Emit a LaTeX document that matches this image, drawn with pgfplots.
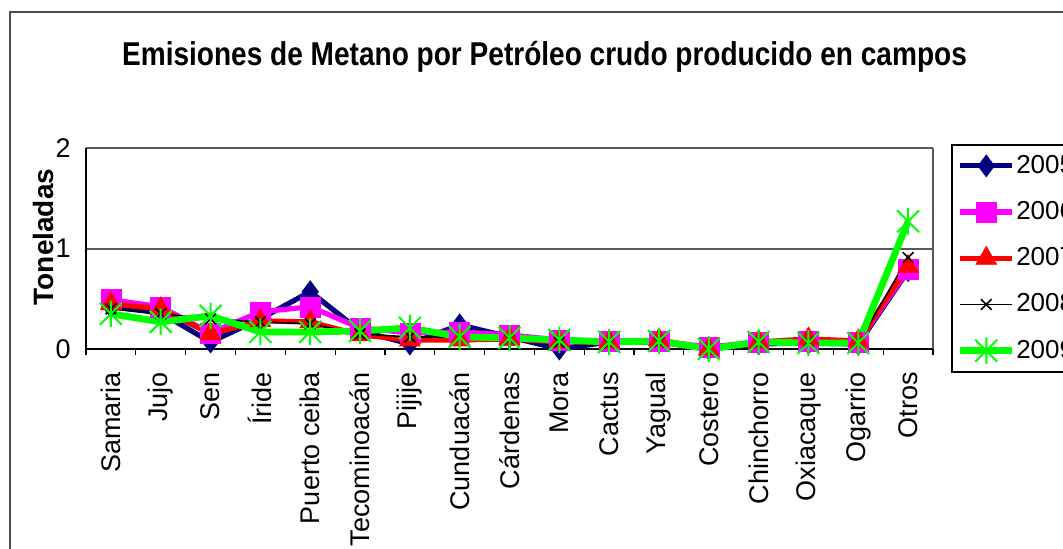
\documentclass[border=0pt]{standalone}
\usepackage{fontspec}
\setmainfont{Liberation Sans}
\usepackage{graphicx}
\usepackage{pgfplots}
\pgfplotsset{compat=1.18}
\definecolor{navyc}{RGB}{0,0,128}
\definecolor{magc}{RGB}{255,0,255}
\definecolor{redc}{RGB}{255,0,0}
\definecolor{greenc}{RGB}{0,255,0}
\pgfdeclareplotmark{xstar}{%
  \pgfpathmoveto{\pgfqpoint{-\pgfplotmarksize}{-\pgfplotmarksize}}%
  \pgfpathlineto{\pgfqpoint{\pgfplotmarksize}{\pgfplotmarksize}}%
  \pgfpathmoveto{\pgfqpoint{-\pgfplotmarksize}{\pgfplotmarksize}}%
  \pgfpathlineto{\pgfqpoint{\pgfplotmarksize}{-\pgfplotmarksize}}%
  \pgfpathmoveto{\pgfqpoint{0pt}{-1.2\pgfplotmarksize}}%
  \pgfpathlineto{\pgfqpoint{0pt}{1.2\pgfplotmarksize}}%
  \pgfusepathqstroke}

\pgfplotstableread{
x y2005 y2006 y2007 y2008 y2009
0  0.42 0.49 0.45 0.40 0.35
1  0.36 0.42 0.40 0.35 0.27
2  0.07 0.16 0.15 0.30 0.33
3  0.30 0.37 0.28 0.27 0.17
4  0.57 0.42 0.27 0.25 0.17
5  0.18 0.21 0.14 0.15 0.18
6  0.05 0.16 0.09 0.12 0.21
7  0.24 0.17 0.09 0.12 0.12
8  0.12 0.14 0.10 0.10 0.11
9  0.00 0.09 0.07 0.07 0.09
10 0.07 0.08 0.07 0.06 0.07
11 0.07 0.08 0.09 0.07 0.08
12 0.00 0.02 0.00 0.00 0.00
13 0.05 0.07 0.07 0.06 0.07
14 0.06 0.08 0.10 0.07 0.06
15 0.05 0.07 0.08 0.06 0.06
16 0.78 0.79 0.82 0.91 1.27
}\datatable

\begin{document}
\begin{tikzpicture}[x=0.5pt,y=0.5pt]
\path[use as bounding box] (0,0) rectangle (1063,548);
\fill[white] (0,0) rectangle (1063,548);
\draw[gray!60!black, line width=0.8pt] (10,-5) -- (10,536) -- (1075,536);
\node[font=\bfseries\fontsize{16.5}{18}\selectfont, anchor=base, inner sep=0pt] at (544.5,483)
  {\scalebox{0.85}[1]{Emisiones de Metano por Petróleo crudo producido en campos}};
\node[font=\bfseries\fontsize{14}{16}\selectfont, rotate=90, inner sep=0pt] at (43,311) {Toneladas};
\begin{axis}[
  scale only axis, width=423.5pt, height=100.5pt,
  at={(43pt,99.5pt)}, anchor=south west,
  xmin=-0.5, xmax=16.5, ymin=0, ymax=2,
  clip=false,
  axis lines=left,
  axis line style={-, black, line width=0.8pt},
  xtick={0,...,16},
  xticklabels={Samaria,Jujo,Sen,Íride,Puerto ceiba,Tecominoacán,Pijije,Cunduacán,Cárdenas,Mora,Cactus,Yagual,Costero,Chinchorro,Oxiacaque,Ogarrio,Otros},
  minor xtick={-0.5,0.5,...,16.5},
  major tick length=0pt,
  minor tick length=3pt,
  tick align=outside,
  minor tick style={black, line width=0.6pt},
  ytick={0,1,2},
  ymajorgrids,
  grid style={gray!70!black, line width=1pt},
  /pgf/number format/assume math mode=true,
  tick label style={font=\fontsize{13.5}{14}\selectfont, inner sep=0pt},
  xticklabel style={rotate=90, anchor=east},
  xticklabel shift=11.5pt,
  yticklabel shift=7.5pt,
  legend style={at={(1.0213,1.02)}, anchor=north west, draw=black, line width=0.8pt,
     inner xsep=2.5pt, inner ysep=3.5pt, font=\fontsize{13}{14}\selectfont,
     row sep=9pt, nodes={inner sep=0.3pt, text height=10.5pt, text depth=3pt}},
  legend cell align=left,
  legend image code/.code={\draw[mark repeat=2,mark phase=2] plot coordinates {(0pt,0pt)(13pt,0pt)(26pt,0pt)};},
]
\draw[gray!70!black, line width=1pt] (rel axis cs:1,0) -- (rel axis cs:1,1);
\addplot[navyc, line width=2.6pt, mark=diamond*, mark size=5.5pt, mark options={solid, line width=0.3pt, fill=navyc}] table[x=x, y=y2005] {\datatable};
\addlegendentry{2005}
\addplot[magc, line width=2.6pt, mark=square*, mark size=5pt, mark options={solid, line width=0.3pt, fill=magc}] table[x=x, y=y2006] {\datatable};
\addlegendentry{2006}
\addplot[redc, line width=2.6pt, mark=triangle*, mark size=6pt, mark options={solid, line width=0.3pt, fill=redc}] table[x=x, y=y2007] {\datatable};
\addlegendentry{2007}
\addplot[black, line width=0.8pt, mark=x, mark size=3.8pt, mark options={solid, line width=0.8pt}] table[x=x, y=y2008] {\datatable};
\addlegendentry{2008}
\addplot[greenc, line width=3.4pt, mark=xstar, mark size=5.5pt, mark options={solid, line width=1pt}] table[x=x, y=y2009] {\datatable};
\addlegendentry{2009}
\end{axis}
\end{tikzpicture}
\end{document}
